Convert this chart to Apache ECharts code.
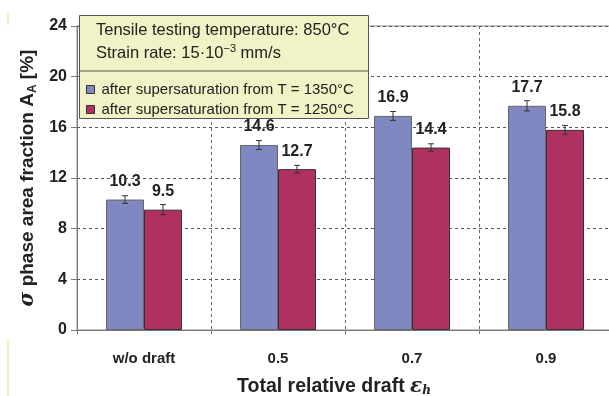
<!DOCTYPE html>
<html><head><meta charset="utf-8">
<script src="https://cdn.jsdelivr.net/npm/echarts@6/dist/echarts.min.js"></script>
<style>html,body{margin:0;padding:0;background:#fff}#c{width:609px;height:396px}</style>
</head><body><div id="c"></div>
<script>
var categories = ['w/o draft', '0.5', '0.7', '0.9'];
var s1350 = [10.3, 14.6, 16.9, 17.7];
var s1250 = [9.5, 12.7, 14.4, 15.8];
var err1350 = [0.3, 0.35, 0.35, 0.4];
var err1250 = [0.4, 0.3, 0.3, 0.35];
var yTicks = [0, 4, 8, 12, 16, 20, 24];
var name1350 = 'after supersaturation from T = 1350°C';
var name1250 = 'after supersaturation from T = 1250°C';

var chart = echarts.init(document.getElementById('c'));
var FONT = 'Liberation Sans, Arial, sans-serif';
var BW = 38;

function errSeries(vals, errs, side) {
  return {
    type: 'custom', silent: true, z: 10,
    data: vals.map(function (v, i) { return [i, v, errs[i]]; }),
    renderItem: function (params, api) {
      var i = api.value(0), v = api.value(1), e = api.value(2);
      var hi = api.coord([i, v + e]), lo = api.coord([i, v - e]);
      var x = hi[0] + side * BW / 2;
      var st = { stroke: '#333', lineWidth: 1 };
      return { type: 'group', children: [
        { type: 'line', shape: { x1: x, y1: hi[1], x2: x, y2: lo[1] }, style: st },
        { type: 'line', shape: { x1: x - 3, y1: hi[1], x2: x + 3, y2: hi[1] }, style: st },
        { type: 'line', shape: { x1: x - 3, y1: lo[1], x2: x + 3, y2: lo[1] }, style: st }
      ]};
    }
  };
}

var labelStyle = { show: true, position: 'top', distance: 10, fontFamily: FONT, fontWeight: 'bold', fontSize: 16, color: '#222' };

chart.setOption({
  animation: false,
  backgroundColor: '#fff',
  grid: { left: 77, top: 26, width: 536, height: 304, show: true, borderColor: '#888', borderWidth: 1,
    backgroundColor: 'transparent', containLabel: false, outerBoundsMode: 'none' },
  xAxis: {
    type: 'category', data: categories,
    axisLine: { lineStyle: { color: '#777', width: 1 } },
    axisTick: { show: true, length: 6, lineStyle: { color: '#777', type: 'dashed' } },
    splitLine: { show: true, lineStyle: { color: '#666', type: [3, 3] } },
    axisLabel: { fontFamily: FONT, fontWeight: 'bold', fontSize: 15, color: '#222', margin: 21 },
    name: '{t|Total relative draft }{e|ε}{s|h}', nameLocation: 'middle', nameGap: 46,
    nameTextStyle: { padding: [0, 22, 0, 0], rich: {
      t: { fontFamily: FONT, fontWeight: 'bold', fontSize: 19.5, color: '#222' },
      e: { fontFamily: 'DejaVu Serif, serif', fontStyle: 'italic', fontWeight: 'bold', fontSize: 20, color: '#222' },
      s: { fontFamily: 'DejaVu Serif, serif', fontStyle: 'italic', fontWeight: 'bold', fontSize: 12, color: '#222', verticalAlign: 'bottom', padding: [9, 0, 0, 0] }
    } }
  },
  yAxis: {
    type: 'value', min: 0, max: 24, interval: 4,
    axisLine: { show: true, lineStyle: { color: '#777', width: 1 } },
    axisTick: { show: true, length: 6, lineStyle: { color: '#777' } },
    splitLine: { show: true, lineStyle: { color: '#555', type: [3, 3] } },
    axisLabel: { fontFamily: FONT, fontWeight: 'bold', fontSize: 16, color: '#222', margin: 10,
      formatter: function (v) { return yTicks.indexOf(v) >= 0 ? String(v) : ''; } },
    name: '{g|σ}{t| phase area fraction A}{s|A}{t| [%]}', nameLocation: 'middle', nameGap: 38, nameRotate: 90,
    nameTextStyle: { rich: {
      g: { fontFamily: 'DejaVu Serif, serif', fontStyle: 'italic', fontWeight: 'bold', fontSize: 20, color: '#222' },
      t: { fontFamily: FONT, fontWeight: 'bold', fontSize: 19, color: '#222' },
      s: { fontFamily: FONT, fontWeight: 'bold', fontSize: 12, color: '#222', verticalAlign: 'bottom', padding: [9, 0, 0, 0] }
    } }
  },
  legend: {
    left: 81, top: 77, orient: 'vertical', itemWidth: 8, itemHeight: 8, itemGap: 5, z: 60,
    icon: 'rect', data: [name1350, name1250],
    itemStyle: { borderColor: '#333', borderWidth: 1 },
    textStyle: { fontFamily: FONT, fontSize: 15, color: '#222', padding: [0, 0, 0, 2] }
  },
  graphic: [
    { type: 'rect', left: 79, top: 15, shape: { width: 289, height: 103 }, style: { fill: '#f1f2c6', stroke: '#555', lineWidth: 1 }, z: 50 },
    { type: 'line', shape: { x1: 79, y1: 71, x2: 368, y2: 71 }, style: { stroke: '#555', lineWidth: 1 }, z: 51 },
    { type: 'text', left: 96, top: 22, style: { text: 'Tensile testing temperature: 850°C', fontSize: 16.5, fontFamily: FONT, fill: '#222' }, z: 51 },
    { type: 'text', left: 96, top: 43, style: { text: '{a|Strain rate: 15·10}{b|−3}{a| mm/s}', fill: '#222', rich: {
        a: { fontSize: 16.5, fontFamily: FONT, color: '#222' },
        b: { fontSize: 11, fontFamily: FONT, color: '#222', verticalAlign: 'top', padding: [0, 0, 9, 0] } } }, z: 51 },
    { type: 'rect', left: 7, top: 13, shape: { width: 2, height: 12 }, style: { fill: '#f0efc0' } },
    { type: 'rect', left: 7, top: 340, shape: { width: 2, height: 56 }, style: { fill: '#f0efc0' } }
  ],
  series: [
    { name: name1350, type: 'bar', data: s1350, barWidth: BW, barGap: '0%',
      itemStyle: { color: '#7f88c0', borderColor: '#666', borderWidth: 1 }, label: labelStyle },
    { name: name1250, type: 'bar', data: s1250, barWidth: BW,
      itemStyle: { color: '#b03062', borderColor: '#333', borderWidth: 1 }, label: labelStyle },
    errSeries(s1350, err1350, -1),
    errSeries(s1250, err1250, 1)
  ]
});
</script></body></html>
